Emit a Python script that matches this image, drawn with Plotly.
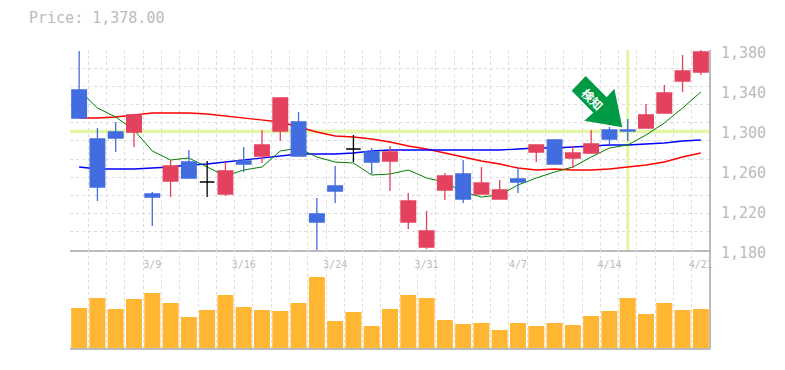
import plotly.graph_objects as go

dates_labels = ["3/9", "3/16", "3/24", "3/31", "4/7", "4/14", "4/21"]
date_label_index = [4, 9, 14, 19, 24, 29, 34]
price_ticks = [1180, 1220, 1260, 1300, 1340, 1380]

opens = [1340,1291,1298,1298,1236,1249,1268,1248,1236,1269,1274,1299,1308,1216,1244,1281,1278,1269,1208,1183,1240,1256,1236,1231,1251,1278,1290,1272,1277,1300,1300,1302,1317,1349,1358]
highs = [1379,1302,1308,1315,1238,1270,1280,1269,1268,1283,1300,1332,1318,1232,1264,1295,1282,1284,1237,1219,1257,1270,1263,1250,1262,1285,1291,1284,1300,1303,1311,1326,1345,1375,1380]
lows = [1312,1229,1278,1283,1204,1233,1252,1233,1234,1258,1267,1289,1274,1180,1227,1268,1256,1239,1201,1181,1230,1227,1236,1231,1237,1268,1266,1262,1276,1286,1289,1302,1317,1338,1355]
closes = [1312,1243,1292,1315,1233,1264,1252,1248,1259,1266,1285,1332,1274,1208,1239,1281,1268,1278,1229,1199,1254,1231,1247,1240,1248,1285,1266,1277,1286,1291,1299,1315,1337,1359,1378]

ma_short = [1340,1322,1313,1300,1279,1270,1272,1263,1254,1260,1263,1279,1282,1273,1268,1267,1255,1256,1260,1252,1248,1238,1233,1235,1245,1252,1258,1263,1273,1282,1285,1295,1307,1322,1338]
ma_mid = [1263,1261,1261,1261,1262,1263,1265,1266,1268,1270,1272,1274,1276,1276,1276,1277,1279,1280,1280,1280,1280,1280,1280,1280,1281,1282,1282,1283,1284,1285,1285,1286,1287,1289,1290]
ma_long = [1312,1312,1313,1315,1317,1317,1317,1316,1314,1312,1310,1308,1303,1298,1294,1293,1291,1288,1284,1281,1277,1273,1269,1266,1262,1260,1261,1260,1260,1261,1263,1265,1268,1273,1277]
volumes = [40,50,39,49,55,45,31,38,53,41,38,37,45,71,27,36,22,39,53,50,28,24,25,18,25,22,25,23,32,37,50,34,45,38,39]

signal_index = 30
signal_price = 1298.5
signal_label = "検知"

RED, BLUE, GRID, AXIS, TXT = "#e4415f", "#426ce0", "#dddddd", "#bbbbbb", "#bbbbbb"
MONO = "DejaVu Sans Mono"
xs = list(range(len(closes)))
sub = lambda idx, arr: [arr[i] for i in idx]
doji = [i for i in xs if opens[i] == closes[i]]
up = [i for i in xs if closes[i] > opens[i]]
down = [i for i in xs if closes[i] < opens[i]]

fig = go.Figure()
fig.add_trace(go.Scatter(x=[xs[0]-0.5, xs[-1]+0.5], y=[signal_price]*2, mode="lines", line=dict(color="#e3f5a6", width=3.5), xaxis="x", yaxis="y"))
fig.add_trace(go.Scatter(x=[signal_index]*2, y=[1180, 1380], mode="lines", line=dict(color="#e3f5a6", width=3), xaxis="x", yaxis="y"))
for arr, col, w in [(ma_long, "#ff0000", 1.3), (ma_mid, "#0000ff", 1.3), (ma_short, "#008000", 1)]:
    fig.add_trace(go.Scatter(x=xs, y=arr, mode="lines", line=dict(color=col, width=w), xaxis="x", yaxis="y"))
for idx, col in [(up, RED), (down, BLUE), (doji, "#000000")]:
    fig.add_trace(go.Candlestick(x=idx, open=sub(idx, opens), high=sub(idx, highs), low=sub(idx, lows), close=sub(idx, closes),
        increasing=dict(line=dict(color=col, width=1.3), fillcolor=col), decreasing=dict(line=dict(color=col, width=1.3), fillcolor=col),
        whiskerwidth=0, xaxis="x3", yaxis="y3"))
fig.add_trace(go.Bar(x=xs, y=volumes, marker=dict(color="#ffb733", line_width=0), xaxis="x2", yaxis="y2"))

grid_x = dict(range=[-0.5, 34.5], tick0=-0.5, dtick=1, showgrid=True, gridcolor=GRID, griddash="3px,3px", gridwidth=1, showticklabels=False, ticks="", zeroline=False)
fig.update_layout(
    width=785, height=370, margin=dict(l=70, r=75, t=50, b=21, autoexpand=False), paper_bgcolor="white", plot_bgcolor="white",
    showlegend=False, bargap=0.125, boxmode="overlay", boxgap=0.2, boxgroupgap=0,
    title=dict(text="Price: 1,378.00", x=29/785, xanchor="left", y=1-18/370, yanchor="middle", font=dict(family=MONO, size=15, color=TXT)),
    xaxis=dict(**grid_x, domain=[0, 1], anchor="y", rangeslider=dict(visible=False)),
    yaxis=dict(domain=[99/299, 1], anchor="x", range=[1180, 1380], tick0=1180, dtick=200/11, showgrid=True, gridcolor=GRID, griddash="3px,3px", showticklabels=False, zeroline=False, ticks=""),
    xaxis2=dict(**grid_x, domain=[0, 1], anchor="y2"),
    yaxis2=dict(domain=[0, 99/299], anchor="x2", range=[-1, 98], showgrid=False, showticklabels=False, zeroline=False, ticks="", showline=True, linecolor=AXIS, side="right", mirror=False),
    xaxis3=dict(overlaying="x", anchor="y3", range=[-0.5, 34.5], tickvals=date_label_index, ticktext=dates_labels, showgrid=False, zeroline=False, ticks="outside", ticklen=4, tickcolor="rgba(0,0,0,0)",
                tickfont=dict(family=MONO, size=10, color=TXT), showline=True, linecolor=AXIS, linewidth=2, rangeslider=dict(visible=False)),
    yaxis3=dict(overlaying="y", anchor="x3", side="right", range=[1180, 1380], tickvals=price_ticks, ticktext=[f"{v:,}" for v in price_ticks], showgrid=False, zeroline=False,
                tickfont=dict(family=MONO, size=15, color=TXT), ticklabelshift=3, ticks="outside", ticklen=7, tickcolor="rgba(0,0,0,0)", showline=True, linecolor=AXIS),
)
fig.add_shape(type="line", xref="paper", yref="paper", x0=0, x1=1, y0=0, y1=0, line=dict(color=AXIS, width=2))
fig.add_shape(type="line", xref="paper", yref="paper", x0=1, x1=1, y0=0, y1=1, line=dict(color=AXIS, width=2))

# Signal badge, placed in page pixels
def px(x, y):
    return (x - 70) / 640, 1 - (y - 50) / 299
badge = [(585.7, 76), (571.7, 90.7), (593.3, 112.7), (584.3, 120.7), (622.3, 127.3), (614.3, 88.7), (606.7, 97.3)]
path = "M " + " L ".join("%.5f,%.5f" % px(*p) for p in badge) + " Z"
fig.add_shape(type="path", xref="paper", yref="paper", path=path, fillcolor="#009944", line=dict(width=0))
ax, ay = px(592.5, 98.5)
fig.add_annotation(xref="paper", yref="paper", x=ax, y=ay, xanchor="center", yanchor="middle", text=signal_label, textangle=45, showarrow=False, opacity=1,
                   font=dict(family="Noto Sans CJK JP", size=12, color="#ffffff", weight="bold"))
fig.write_html("out.html", post_script="document.body.style.margin='0';", config=dict(displayModeBar=False))
